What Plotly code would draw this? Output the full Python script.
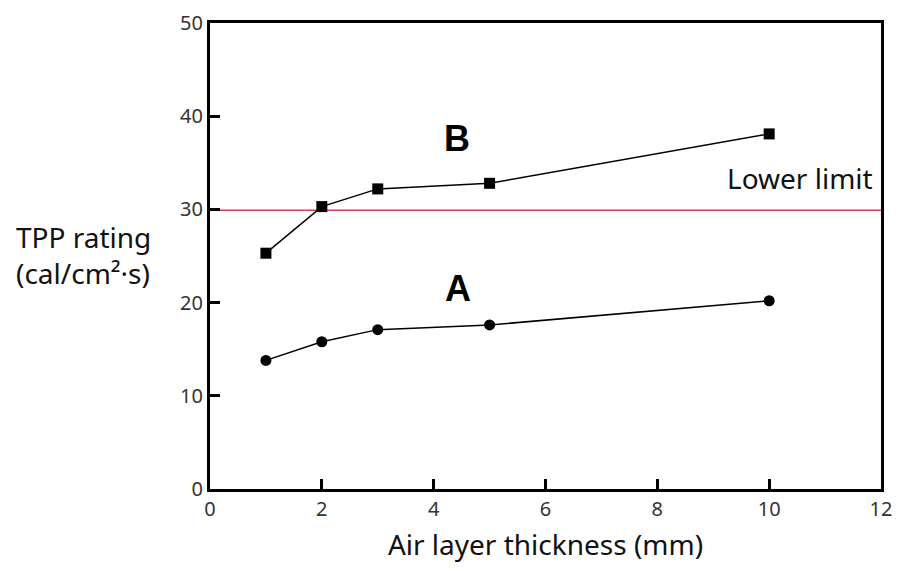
import plotly.graph_objects as go

thickness = [1, 2, 3, 5, 10]
tpp_B = [25.3, 30.3, 32.2, 32.8, 38.1]
tpp_A = [13.8, 15.8, 17.1, 17.6, 20.2]
lower_limit = 29.9
x_ticks = [0, 2, 4, 6, 8, 10, 12]
y_ticks = [0, 10, 20, 30, 40, 50]

FONT = "Noto Sans"

fig = go.Figure()
fig.add_trace(go.Scatter(x=[0, 12], y=[lower_limit, lower_limit], mode="lines",
                         line=dict(color="#d0405a", width=1.5), showlegend=False, cliponaxis=False))
fig.add_trace(go.Scatter(x=thickness, y=tpp_B, mode="lines+markers",
                         line=dict(color="black", width=1.5),
                         marker=dict(symbol="square", size=11, color="black"), showlegend=False))
fig.add_trace(go.Scatter(x=thickness, y=tpp_A, mode="lines+markers",
                         line=dict(color="black", width=1.5),
                         marker=dict(symbol="circle", size=11, color="black"), showlegend=False))

fig.update_layout(
    width=899, height=571,
    margin=dict(l=210, r=18, t=23, b=82),
    paper_bgcolor="white", plot_bgcolor="white",
    font=dict(family=FONT, color="#222"),
    xaxis=dict(range=[0, 12], tickvals=x_ticks, ticks="inside", ticklen=10, tickwidth=3,
               tickcolor="black", showline=True, linewidth=3, linecolor="black", mirror=True,
               showgrid=False, zeroline=False, automargin=False,
               tickfont=dict(size=20, color="#333"),
               title=dict(text="Air layer thickness (mm)", font=dict(size=28, color="#111"), standoff=15)),
    yaxis=dict(range=[0, 50], tickvals=y_ticks, ticks="inside", ticklen=10, tickwidth=3,
               tickcolor="black", showline=True, linewidth=3, linecolor="black", mirror=True,
               showgrid=False, zeroline=False, automargin=False,
               tickfont=dict(size=20, color="#333")),
    annotations=[
        dict(x=4.42, y=37.6, text="<b>B</b>", showarrow=False, font=dict(size=36, family="Liberation Sans", color="black")),
        dict(x=4.44, y=21.5, text="<b>A</b>", showarrow=False, font=dict(size=36, family="Liberation Sans", color="black")),
        dict(x=11.9, y=33.35, text="Lower limit", showarrow=False, xanchor="right",
             font=dict(size=28, color="#111")),
        dict(xref="paper", yref="paper", x=-0.188, y=0.503, xanchor="center", yanchor="middle",
             text="TPP rating<br>(cal/cm²·s)", showarrow=False, align="left",
             font=dict(size=28, color="#111")),
    ],
)
fig.write_html("out.html", config={"displayModeBar": False},
               post_script="document.body.style.margin='0';")
